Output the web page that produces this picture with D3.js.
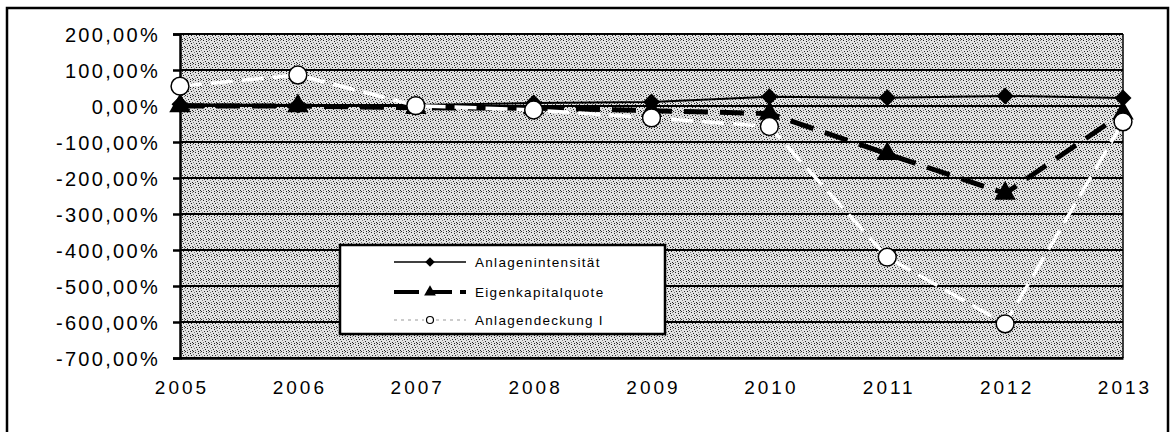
<!DOCTYPE html>
<html lang="de">
<head>
<meta charset="UTF-8">
<title>Kennzahlen 2005-2013</title>
<script src="https://cdn.jsdelivr.net/npm/d3@7"></script>
<style>
    body { margin: 0; background: #fff; }
    svg { display: block; font-family: "Liberation Sans", Arial, sans-serif; }
</style>
</head>
<body>
<svg width="1174" height="432"></svg>
<script>
// data (values in %)
const years = ["2005", "2006", "2007", "2008", "2009", "2010", "2011", "2012", "2013"];
const anlagenintensitaet = [5, 3, 3, 8, 11, 26, 23, 28, 22];
const eigenkapitalquote = [0, 0, -5, -6, -13, -21, -133, -243, -20];
const anlagendeckung = [55, 86, 1, -11, -33, -57, -420, -605, -44];
const yTicks = [200, 100, 0, -100, -200, -300, -400, -500, -600, -700];
const seriesNames = ["Anlagenintensität", "Eigenkapitalquote", "Anlagendeckung I"];

const svg = d3.select("svg");
const plotL = 180, plotR = 1123, plotT = 34, plotB = 358;

const x = d3.scalePoint().domain(years).range([plotL, plotR]);
const y = d3.scaleLinear().domain([-700, 200]).range([plotB, plotT]);

const de = d3.formatLocale({decimal: ",", thousands: ".", grouping: [3], currency: ["", " €"], minus: "-"});
const fmt = v => de.format(".2f")(v) + "%";

// outer frame
svg.append("path")
    .attr("d", "M7,440 V8 H1168 V440")
    .attr("fill", "none").attr("stroke", "#000").attr("stroke-width", 2.5);

// stippled plot background (scan look)
const defs = svg.append("defs");
const pat = defs.append("pattern").attr("id", "stipple")
    .attr("width", 8).attr("height", 8).attr("patternUnits", "userSpaceOnUse");
pat.append("rect").attr("width", 8).attr("height", 8).attr("fill", "#e2e2e2");
[[0,0],[3,0],[6,1],[1,2],[4,3],[7,3],[2,4],[5,5],[0,6],[3,6],[6,7],[1,7]].forEach(([a, b], i) => {
    pat.append("rect").attr("x", a).attr("y", b).attr("width", 1).attr("height", 1)
        .attr("fill", i % 3 === 0 ? "#777" : "#222");
});

svg.append("rect")
    .attr("x", plotL).attr("y", plotT)
    .attr("width", plotR - plotL).attr("height", plotB - plotT)
    .attr("fill", "url(#stipple)");

// y axis
const yAxis = svg.append("g")
    .attr("transform", `translate(${plotL},0)`)
    .call(d3.axisLeft(y).tickValues(yTicks).tickSize(7).tickFormat(fmt));
yAxis.select(".domain").attr("stroke-width", 2.5);
yAxis.selectAll(".tick line").attr("stroke-width", 2.5);
yAxis.selectAll(".tick text")
    .attr("x", -20).attr("dy", "0.36em")
    .attr("font-size", 20).attr("letter-spacing", 2.3)
    .attr("font-family", "Liberation Sans, Arial, sans-serif")
    .attr("fill", "#000");

// gridlines
svg.append("g")
    .selectAll("line")
    .data(yTicks)
    .join("line")
    .attr("x1", plotL).attr("x2", plotR)
    .attr("y1", d => y(d)).attr("y2", d => y(d))
    .attr("stroke", "#000").attr("stroke-width", 2.2);

svg.append("line")
    .attr("x1", plotR).attr("x2", plotR).attr("y1", plotT).attr("y2", plotB)
    .attr("stroke", "#000").attr("stroke-width", 1.5);

// x axis labels
const xAxis = svg.append("g")
    .attr("transform", `translate(0,${plotB})`)
    .call(d3.axisBottom(x).tickSize(0).tickPadding(0));
xAxis.select(".domain").attr("stroke-width", 2.5);
xAxis.selectAll(".tick text")
    .attr("y", 36).attr("dy", 0)
    .attr("font-size", 19).attr("letter-spacing", 3)
    .attr("dx", 1.5)
    .attr("font-family", "Liberation Sans, Arial, sans-serif")
    .attr("fill", "#000");

// series
const line = d3.line().x((d, i) => x(years[i])).y(d => y(d));

const styles = [
    {data: anlagenintensitaet, stroke: "#000", width: 2, dash: null, marker: "diamond"},
    {data: eigenkapitalquote, stroke: "#000", width: 5, dash: "24,12", marker: "triangle"},
    {data: anlagendeckung, stroke: "#fff", width: 3.5, dash: "22,9", marker: "circle"}
];

function drawMarker(g, kind, size) {
    const sym = d3.symbol().size(size);
    if (kind === "diamond") {
        g.append("path").attr("d", sym.type(d3.symbolSquare)()).attr("transform", "rotate(45)")
            .attr("fill", "#000");
    } else if (kind === "triangle") {
        g.append("path").attr("d", sym.type(d3.symbolTriangle)())
            .attr("fill", "#000");
    } else {
        g.append("path").attr("d", sym.type(d3.symbolCircle)())
            .attr("fill", "#fff").attr("stroke", "#000").attr("stroke-width", 1.5);
    }
}

const markerSize = {diamond: 145, triangle: 200, circle: 250};

styles.forEach(s => {
    svg.append("path")
        .datum(s.data)
        .attr("d", line)
        .attr("fill", "none")
        .attr("stroke", s.stroke)
        .attr("stroke-width", s.width)
        .attr("stroke-dasharray", s.dash);
});

styles.forEach(s => {
    s.data.forEach((v, i) => {
        const g = svg.append("g").attr("transform", `translate(${x(years[i])},${y(v)})`);
        drawMarker(g, s.marker, markerSize[s.marker]);
    });
});

// legend
const legend = svg.append("g");
legend.append("rect")
    .attr("x", 340).attr("y", 245).attr("width", 325).attr("height", 89)
    .attr("fill", "#fff").attr("stroke", "#000").attr("stroke-width", 2.5);

const legRows = [262, 292, 320];
const legStroke = ["#000", "#000", "#999"];
styles.forEach((s, i) => {
    const yy = legRows[i];
    legend.append("line")
        .attr("x1", 394).attr("x2", 466).attr("y1", yy).attr("y2", yy)
        .attr("stroke", legStroke[i])
        .attr("stroke-width", i === 1 ? 4 : (i === 0 ? 1.5 : 1))
        .attr("stroke-dasharray", i === 1 ? "25,8" : (i === 2 ? "3,4" : null));
    const g = legend.append("g").attr("transform", `translate(430,${yy})`);
    if (i === 2) {
        g.append("rect").attr("x", -6).attr("y", -5).attr("width", 12).attr("height", 10).attr("fill", "#fff");
        g.append("circle").attr("r", 3.5).attr("fill", "#fff").attr("stroke", "#000").attr("stroke-width", 1.2);
    } else {
        drawMarker(g, s.marker, i === 0 ? 45 : 60);
    }
    legend.append("text")
        .attr("x", 475).attr("y", yy + 5)
        .attr("font-size", 13.5).attr("letter-spacing", 1.3)
        .text(seriesNames[i]);
});
</script>
</body>
</html>
